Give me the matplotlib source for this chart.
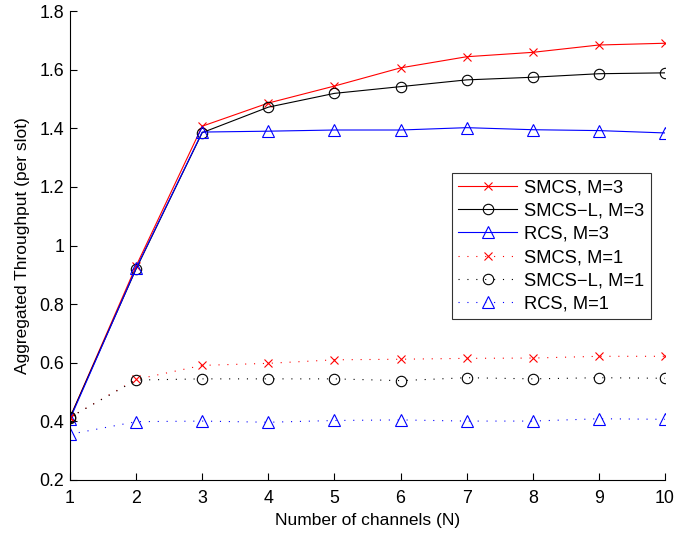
import matplotlib
matplotlib.use("Agg")
import matplotlib.pyplot as plt
import numpy as np

plt.rcParams['font.family'] = ['Liberation Sans', 'DejaVu Sans']

# number of channels
N = [1, 2, 3, 4, 5, 6, 7, 8, 9, 10]

# aggregated throughput, M=3
smcs_m3 = [0.413, 0.93, 1.407, 1.486, 1.544, 1.606, 1.644, 1.659, 1.684, 1.690]
smcsl_m3 = [0.413, 0.92, 1.385, 1.472, 1.519, 1.542, 1.565, 1.574, 1.586, 1.589]
rcs_m3 = [0.408, 0.922, 1.387, 1.390, 1.394, 1.394, 1.402, 1.395, 1.392, 1.384]

# aggregated throughput, M=1
smcs_m1 = [0.414, 0.543, 0.591, 0.598, 0.610, 0.612, 0.615, 0.616, 0.622, 0.622]
smcsl_m1 = [0.414, 0.541, 0.545, 0.545, 0.545, 0.539, 0.549, 0.545, 0.549, 0.547]
rcs_m1 = [0.356, 0.399, 0.401, 0.397, 0.403, 0.405, 0.401, 0.401, 0.409, 0.407]

fig = plt.figure(figsize=(6.78, 5.37), dpi=100)
ax = fig.add_axes([70/678, 57/537, 595/678, 469/537])

lw = 0.8
dot = (0, (1, 7))
ax.plot(N, smcs_m3, color='r', lw=lw, marker='x', ms=6, mew=lw, label='SMCS, M=3')
ax.plot(N, smcsl_m3, color='k', lw=lw, marker='o', ms=7.5, mew=lw, mfc='none', label='SMCS\u2212L, M=3')
ax.plot(N, rcs_m3, color='b', lw=lw, marker='^', ms=9, mew=lw, mfc='none', label='RCS, M=3')
ax.plot(N, smcs_m1, color='r', lw=lw, ls=dot, marker='x', ms=6, mew=lw, label='SMCS, M=1')
ax.plot(N, smcsl_m1, color='k', lw=lw, ls=dot, marker='o', ms=7.5, mew=lw, mfc='none', label='SMCS\u2212L, M=1')
ax.plot(N, rcs_m1, color='b', lw=lw, ls=dot, marker='^', ms=9, mew=lw, mfc='none', label='RCS, M=1')

ax.set_xlim(1, 10)
ax.set_ylim(0.2, 1.8)
ax.set_xticks(N)
ax.set_yticks([0.2, 0.4, 0.6, 0.8, 1.0, 1.2, 1.4, 1.6, 1.8])
ax.set_yticklabels(['0.2', '0.4', '0.6', '0.8', '1', '1.2', '1.4', '1.6', '1.8'])
ax.tick_params(direction='in', length=5, width=0.8, labelsize=12.8)
ax.tick_params(axis='x', pad=7.5)
ax.tick_params(axis='y', pad=4)
ax.spines['top'].set_visible(False)
ax.spines['right'].set_visible(False)
for s in ['left', 'bottom']:
    ax.spines[s].set_linewidth(0.8)

ax.set_xlabel('Number of channels (N)', fontsize=12.5, labelpad=4)
ax.set_ylabel('Aggregated Throughput (per slot)', fontsize=12.5, labelpad=7)

leg = ax.legend(loc='upper left', bbox_to_anchor=(452/678, 1 - 173/537),
                bbox_transform=fig.transFigure, fontsize=13.2, frameon=True,
                fancybox=False, edgecolor='k', handlelength=3.2, handletextpad=0.4,
                labelspacing=0.34, borderpad=0.35, borderaxespad=0)
leg.get_frame().set_linewidth(0.8)

fig.savefig('out.png', dpi=100)
